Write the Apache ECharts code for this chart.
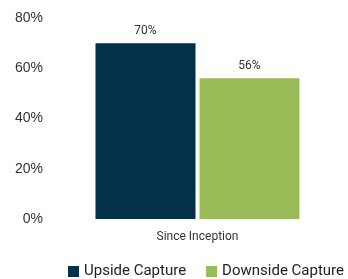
<!DOCTYPE html>
<html>
<head>
<meta charset="utf-8">
<script src="https://cdn.jsdelivr.net/npm/echarts@6/dist/echarts.min.js"></script>
<style>
  html, body { margin: 0; padding: 0; background: #fff; }
  #chart { width: 348px; height: 279px; }
</style>
</head>
<body>
<div id="chart"></div>
<script>
// data
const categories = ["Since Inception"];
const upside = [70];
const downside = [56];
const yTicks = [0, 20, 40, 60, 80];

const chart = echarts.init(document.getElementById("chart"));

chart.setOption({
  animation: false,
  grid: { left: 50, right: 3, top: 18, bottom: 60 },
  legend: {
    left: 68,
    bottom: 0,
    width: 290,
    padding: 0,
    itemWidth: 11,
    itemHeight: 11,
    itemGap: 20,
    icon: "rect",
    textStyle: { fontFamily: "Roboto", fontSize: 15, color: "#222" },
    data: ["Upside Capture", "Downside Capture"]
  },
  xAxis: {
    type: "category",
    data: categories,
    axisLine: { show: false },
    axisTick: { show: false },
    axisLabel: { fontFamily: "Roboto", fontSize: 12, color: "#333", margin: 12 }
  },
  yAxis: {
    type: "value",
    min: yTicks[0],
    max: yTicks[yTicks.length - 1],
    interval: 20,
    splitLine: { show: false },
    axisLabel: {
      formatter: "{value}%",
      fontFamily: "Liberation Sans",
      fontSize: 14,
      color: "#333",
      margin: 7
    }
  },
  series: [
    {
      name: "Upside Capture",
      type: "bar",
      data: upside,
      barWidth: 100,
      barGap: "4%",
      itemStyle: { color: "#04304a" },
      label: {
        show: true,
        position: "top",
        formatter: "{c}%",
        fontFamily: "Roboto",
        fontSize: 12,
        color: "#333",
        distance: 6
      }
    },
    {
      name: "Downside Capture",
      type: "bar",
      data: downside,
      barWidth: 100,
      itemStyle: { color: "#9bbb59" },
      label: {
        show: true,
        position: "top",
        formatter: "{c}%",
        fontFamily: "Roboto",
        fontSize: 12,
        color: "#333",
        distance: 6
      }
    }
  ]
});
</script>
</body>
</html>
